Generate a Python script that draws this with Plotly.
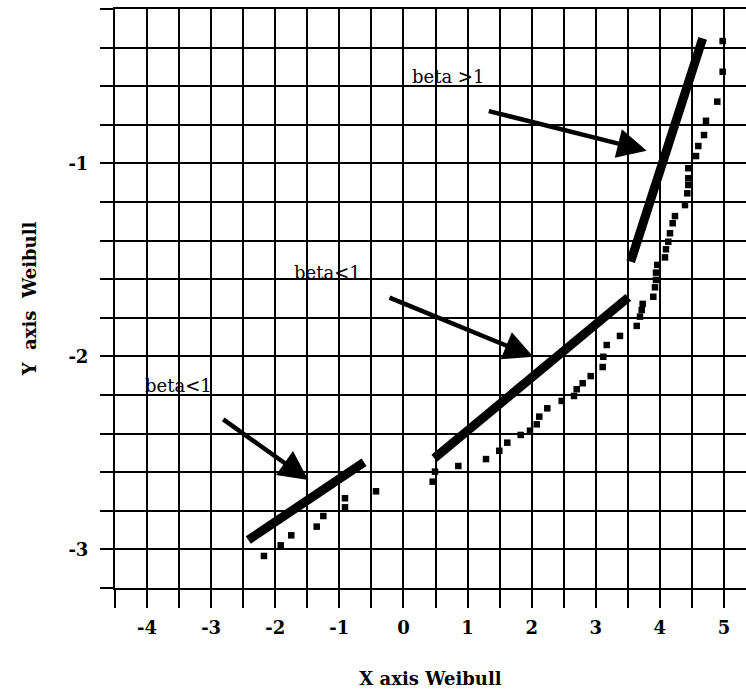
import plotly.graph_objects as go

# ---------------- data ----------------
x_vals = [-2.176, -1.915, -1.750, -1.353, -1.250, -0.912, -0.912, -0.428,
          0.456, 0.492, 0.856, 1.288, 1.495, 1.620, 1.829, 1.974, 2.079, 2.119,
          2.244, 2.469, 2.661, 2.703, 2.796, 2.921, 3.108, 3.118, 3.171, 3.378,
          3.639, 3.690, 3.717, 3.732, 3.898, 3.924, 3.940, 3.940, 3.960, 4.080,
          4.096, 4.132, 4.158, 4.200, 4.236, 4.392, 4.428, 4.444, 4.444, 4.444,
          4.564, 4.600, 4.689, 4.720, 4.896, 4.980, 4.980]
y_vals = [-3.034, -2.979, -2.927, -2.882, -2.827, -2.735, -2.782, -2.699,
          -2.649, -2.597, -2.568, -2.532, -2.489, -2.447, -2.407, -2.385, -2.352, -2.312,
          -2.269, -2.231, -2.205, -2.170, -2.139, -2.102, -2.055, -2.002, -1.941, -1.894,
          -1.842, -1.794, -1.760, -1.728, -1.691, -1.642, -1.604, -1.566, -1.526, -1.487,
          -1.445, -1.406, -1.362, -1.310, -1.273, -1.216, -1.155, -1.112, -1.077, -1.025,
          -0.962, -0.910, -0.853, -0.779, -0.680, -0.525, -0.366]

# fitted segments (beta<1, beta<1, beta>1)
fit1_x = [-2.42, -0.615]
fit1_y = [-2.951, -2.549]
fit2_x = [0.481, 3.508]
fit2_y = [-2.528, -1.694]
fit3_x = [3.545, 4.668]
fit3_y = [-1.509, -0.352]

# annotations: label text, label anchor, arrow tail, arrow tip
labels = ["beta<1", "beta<1", "beta >1"]
label_x = [-4.063, -1.743, 0.102]
label_y = [-2.153, -1.565, -0.552]
arrow_tail_x = [-2.835, -0.241, 1.308]
arrow_tail_y = [-2.321, -1.692, -0.727]
arrow_tip_x = [-1.484, 2.026, 3.795]
arrow_tip_y = [-2.640, -2.002, -0.934]

# axes ticks
x_tick_vals = [-4.5 + 0.5 * i for i in range(20)]
x_tick_labels = ["", "-4", "", "-3", "", "-2", "", "-1", "", "0", "", "1", "", "2",
                 "", "3", "", "4", "", "5"]
y_tick_vals = [round(-3.2 + 0.2 * i, 2) for i in range(16)]
y_tick_labels = ["", "-3", "", "", "", "", "-2", "", "", "", "", "-1", "", "", "", ""]

SERIF = "DejaVu Serif"
NB = "\u00a0"

fig = go.Figure()

fig.add_trace(go.Scatter(
    x=x_vals, y=y_vals, mode="markers",
    marker=dict(symbol="square", size=6.5, color="black", line=dict(width=0)),
    showlegend=False, hoverinfo="x+y",
))

for fx, fy in [(fit1_x, fit1_y), (fit2_x, fit2_y), (fit3_x, fit3_y)]:
    fig.add_trace(go.Scatter(
        x=fx, y=fy, mode="lines",
        line=dict(color="black", width=9),
        showlegend=False, hoverinfo="skip",
    ))

annotations = []
for i in range(len(labels)):
    annotations.append(dict(
        x=label_x[i], y=label_y[i], xref="x", yref="y", text=labels[i],
        showarrow=False, xanchor="left", yanchor="middle",
        font=dict(family=SERIF, size=18, color="black"),
    ))
    annotations.append(dict(
        x=arrow_tip_x[i], y=arrow_tip_y[i], xref="x", yref="y",
        ax=arrow_tail_x[i], ay=arrow_tail_y[i], axref="x", ayref="y",
        text="", showarrow=True, arrowhead=2, arrowsize=1.3, arrowwidth=4.5,
        arrowcolor="black", standoff=0, startstandoff=0,
    ))

fig.update_layout(
    width=746, height=692,
    margin=dict(l=115, r=0, t=9, b=104),
    paper_bgcolor="white", plot_bgcolor="white",
    annotations=annotations,
    font=dict(family=SERIF, color="black"),
    xaxis=dict(
        range=[-4.5, 5.344],
        tickvals=x_tick_vals, ticktext=x_tick_labels,
        showgrid=True, gridcolor="black", gridwidth=2,
        zeroline=False,
        showline=True, linecolor="black", linewidth=2, mirror=True,
        ticks="outside", ticklen=18, tickwidth=2, tickcolor="black",
        ticklabelstandoff=4,
        tickfont=dict(family=SERIF, size=18, color="black", weight="bold"),
        title=dict(text="X axis Weibull", standoff=36,
                   font=dict(family=SERIF, size=18, color="black", weight="bold")),
    ),
    yaxis=dict(
        range=[-3.2, -0.2],
        tickvals=y_tick_vals, ticktext=y_tick_labels,
        showgrid=True, gridcolor="black", gridwidth=2,
        zeroline=False,
        showline=True, linecolor="black", linewidth=2, mirror=False,
        ticks="outside", ticklen=13, tickwidth=2, tickcolor="black",
        ticklabelstandoff=8,
        tickfont=dict(family=SERIF, size=18, color="black", weight="bold"),
        title=dict(text="Y" + NB * 2 + "axis" + NB * 2 + "Weibull", standoff=27,
                   font=dict(family=SERIF, size=18, color="black", weight="bold")),
    ),
)

fig.write_html("out.html")
